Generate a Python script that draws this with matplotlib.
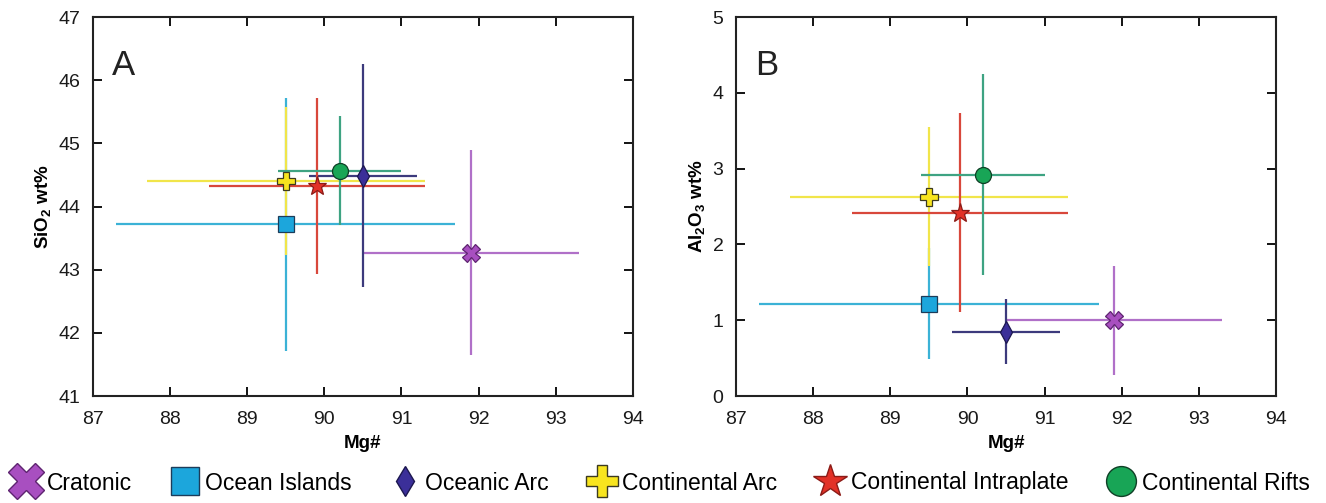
import numpy as np
import matplotlib
matplotlib.use('Agg')
from matplotlib import pyplot as plt
from matplotlib.lines import Line2D

plt.rcParams['font.family'] = ['Liberation Sans', 'DejaVu Sans']
plt.rcParams['mathtext.fontset'] = 'custom'
plt.rcParams['mathtext.rm'] = 'Liberation Sans'
plt.rcParams['mathtext.bf'] = 'Liberation Sans:bold'

# groups, in drawing order
groups = ['Cratonic', 'Ocean Islands', 'Oceanic Arc', 'Continental Arc',
          'Continental Intraplate', 'Continental Rifts']
mg = [91.9, 89.5, 90.5, 89.5, 89.9, 90.2]
mg_err = [1.4, 2.2, 0.7, 1.8, 1.4, 0.8]
sio2 = [43.27, 43.72, 44.49, 44.40, 44.32, 44.57]
sio2_err = [1.62, 2.0, 1.77, 1.17, 1.39, 0.86]
al2o3 = [1.0, 1.22, 0.85, 2.63, 2.42, 2.92]
al2o3_err = [0.72, 0.73, 0.43, 0.92, 1.31, 1.33]

markers = ['X', 's', 'd', 'P', '*', 'o']
msizes = [12.5, 11.5, 11, 12.5, 14, 11.5]
leg_sizes = [26, 20, 15.5, 23, 25, 21.5]
fills = ['#a84fc0', '#1ca6dc', '#3b2f99', '#f8e51e', '#e23127', '#18a556']
edges = ['#5e2470', '#1c3c5a', '#1c174f', '#3c3a20', '#8b1b17', '#0f3f26']
lines = ['#b070c8', '#3bb2d6', '#3c3a7c', '#f1e54a', '#d8473b', '#3ea382']

fig = plt.figure(figsize=(13.26, 5.03), dpi=100)
axA = fig.add_axes([0.0701, 0.2127, 0.4072, 0.7535])
axB = fig.add_axes([0.5551, 0.2127, 0.4072, 0.7535])

panels = [(axA, sio2, sio2_err, (41, 47), 'A', r'$\mathbf{SiO_2}$ wt%'),
          (axB, al2o3, al2o3_err, (0, 5), 'B', r'$\mathbf{Al_2O_3}$ wt%')]

for ax, yv, ye, ylim, letter, ylab in panels:
    for i in range(len(groups)):
        ax.errorbar(mg[i], yv[i], xerr=mg_err[i], yerr=ye[i], fmt='none',
                    ecolor=lines[i], elinewidth=1.6, capsize=0, zorder=2 + i * 0.01)
    for i in range(len(groups)):
        ax.plot(mg[i], yv[i], marker=markers[i], ms=msizes[i], mfc=fills[i],
                mec=edges[i], mew=0.9, ls='none', zorder=4)
    ax.set_xlim(87, 94)
    ax.set_ylim(*ylim)
    ax.set_xticks(range(87, 95))
    ax.set_yticks(range(ylim[0], ylim[1] + 1))
    ax.tick_params(direction='in', top=True, right=True, length=6.5, width=1.3,
                   labelsize=14, labelcolor='#1a1a1a')
    ax.tick_params(axis='x', pad=11)
    ax.tick_params(axis='y', pad=9)
    for sp in ax.spines.values():
        sp.set_linewidth(1.5)
        sp.set_color('#222222')
    ax.set_xlabel('Mg#', fontsize=13.5, fontweight='bold', labelpad=5)
    ax.set_ylabel(ylab, fontsize=13.5, fontweight='bold', labelpad=4)
    ax.text(0.035, 0.847, letter, transform=ax.transAxes, fontsize=25,
            ha='left', va='baseline', color='#222222')

handles = [Line2D([], [], marker=markers[i], ms=leg_sizes[i], mfc=fills[i],
                  mec=edges[i], mew=1.0, ls='none') for i in range(len(groups))]
fig.legend(handles, groups, loc='center', bbox_to_anchor=(0.4985, 1 - 483 / 503),
           ncol=6, frameon=False, fontsize=16.5, handlelength=1.2,
           handletextpad=0.3, columnspacing=1.7, borderaxespad=0)

fig.savefig('out.png', dpi=100)
